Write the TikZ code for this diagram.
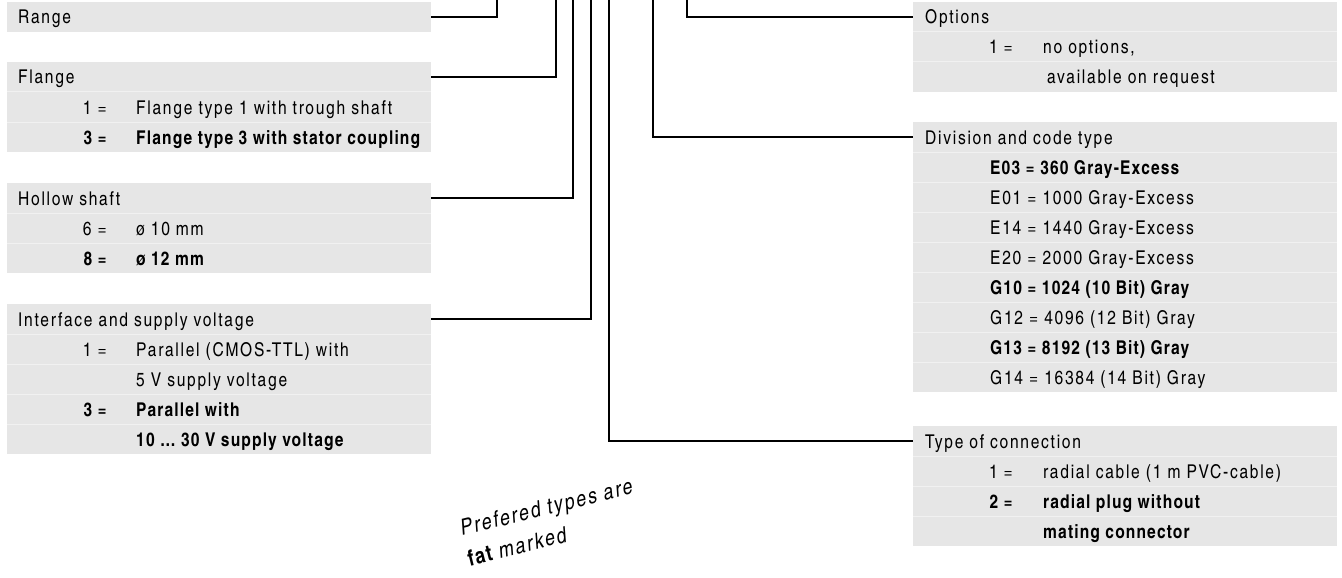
\documentclass[tikz,border=0pt]{standalone}
\usepackage{fontspec}
\setmainfont{texgyreheroscn}[Extension=.otf,UprightFont=*-regular,BoldFont=*-bold,ItalicFont=*-italic,BoldItalicFont=*-bolditalic,LetterSpace=9,BoldFeatures={LetterSpace=6}]
\definecolor{boxgray}{HTML}{E6E6E6}
\definecolor{rulegray}{HTML}{F1F1F1}
\begin{document}
\begin{tikzpicture}[x=1pt,y=-1pt,
  bg/.style={fill=boxgray,inner sep=0pt,outer sep=0pt,minimum width=424pt,minimum height=30pt,anchor=north west},
  rowline/.style={draw=rulegray,line width=1pt},
  txt/.style={anchor=base west,inner sep=0pt},
  num/.style={anchor=base east,inner sep=0pt},
  wire/.style={line width=1.6pt},
  font=\fontsize{19}{22}\selectfont]
\useasboundingbox (0,0) rectangle (1342,578);
% upper ends of the wires
\coordinate (rangeup) at (497,0);
\coordinate (flangeup) at (556,0);
\coordinate (shaftup) at (573,0);
\coordinate (ifaceup) at (591,0);
\coordinate (connup) at (609,0);
\coordinate (divup) at (653,0);
\coordinate (optup) at (687,0);

% left column
\node[bg] (rangehd) at (7,2) {};
\node[txt] at (18,24) {Range};

\node[bg] (flangehd) at (7,62) {};
\node[bg,minimum height=60pt] (flange) at (7,92) {};
\foreach \y in {92,122} \draw[rowline] (7,\y)--(431,\y);
\node[txt] at (18,84) {Flange};
\node[num] at (107,114) {1 =};
\node[txt] at (136,114) {Flange type 1 with trough shaft};
\node[num] at (107,144) {\bfseries 3 =};
\node[txt] at (136,144) {\bfseries Flange type 3 with stator coupling};

\node[bg] (shafthd) at (7,183) {};
\node[bg,minimum height=60pt] (shaft) at (7,213) {};
\foreach \y in {213,243} \draw[rowline] (7,\y)--(431,\y);
\node[txt] at (18,205) {Hollow shaft};
\node[num] at (107,235) {6 =};
\node[txt] at (136,235) {ø 10 mm};
\node[num] at (107,265) {\bfseries 8 =};
\node[txt] at (136,265) {\bfseries ø 12 mm};

\node[bg] (ifacehd) at (7,304) {};
\node[bg,minimum height=120pt] (iface) at (7,334) {};
\foreach \y in {334,364,394,424} \draw[rowline] (7,\y)--(431,\y);
\node[txt] at (18,326) {Interface and supply voltage};
\node[num] at (107,356) {1 =};
\node[txt] at (136,356) {Parallel (CMOS-TTL) with};
\node[txt] at (136,386) {5 V supply voltage};
\node[num] at (107,416) {\bfseries 3 =};
\node[txt] at (136,416) {\bfseries Parallel with};
\node[txt] at (136,446) {\bfseries 10 … 30 V supply voltage};

% right column
\node[bg] (opthd) at (913,2) {};
\node[bg,minimum height=60pt] (opt) at (913,32) {};
\foreach \y in {32,62} \draw[rowline] (913,\y)--(1337,\y);
\node[txt] at (925,24) {Options};
\node[num] at (1013,54) {1 =};
\node[txt] at (1043,54) {no options,};
\node[txt] at (1047,84) {available on request};

\node[bg] (divhd) at (913,122) {};
\node[bg,minimum height=240pt] (div) at (913,152) {};
\foreach \y in {152,182,...,362} \draw[rowline] (913,\y)--(1337,\y);
\node[txt] at (925,144) {Division and code type};
\node[txt] at (990,174) {\bfseries E03 = 360 Gray-Excess};
\node[txt] at (990,204) {E01 = 1000 Gray-Excess};
\node[txt] at (990,234) {E14 = 1440 Gray-Excess};
\node[txt] at (990,264) {E20 = 2000 Gray-Excess};
\node[txt] at (990,294) {\bfseries G10 = 1024 (10 Bit) Gray};
\node[txt] at (990,324) {G12 = 4096 (12 Bit) Gray};
\node[txt] at (990,354) {\bfseries G13 = 8192 (13 Bit) Gray};
\node[txt] at (990,384) {G14 = 16384 (14 Bit) Gray};

\node[bg] (connhd) at (913,426) {};
\node[bg,minimum height=90pt] (conn) at (913,456) {};
\foreach \y in {456,486,516} \draw[rowline] (913,\y)--(1337,\y);
\node[txt] at (925,448) {Type of connection};
\node[num] at (1013,478) {1 =};
\node[txt] at (1043,478) {radial cable (1 m PVC-cable)};
\node[num] at (1013,508) {\bfseries 2 =};
\node[txt] at (1043,508) {\bfseries radial plug without};
\node[txt] at (1043,538) {\bfseries mating connector};

% wires
\draw[wire] (rangehd.east) -| (rangeup);
\draw[wire] (flangehd.east) -| (flangeup);
\draw[wire] (shafthd.east) -| (shaftup);
\draw[wire] (ifacehd.east) -| (ifaceup);
\draw[wire] (connup) |- (connhd.west);
\draw[wire] (divup) |- (divhd.west);
\draw[wire] (optup) |- (opthd.west);

\node[rotate=14,align=left,inner sep=0pt,font=\fontsize{22}{31}\selectfont\itshape] (note) at (550,522) {Prefered types are\\{\upshape\bfseries fat} marked};
\end{tikzpicture}
\end{document}
